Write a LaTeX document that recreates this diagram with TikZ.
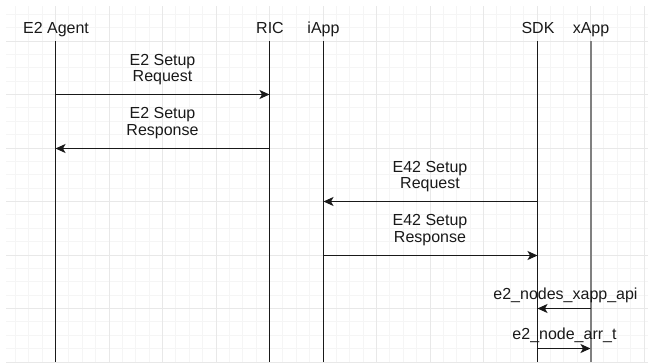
\documentclass[tikz,border=0pt]{standalone}
\usepackage{fontspec}
\setmainfont{Liberation Sans}
\usetikzlibrary{arrows.meta}
\begin{document}
\begin{tikzpicture}[x=1pt,y=-1pt,
  lbl/.style={font=\fontsize{16}{16.8}\selectfont, inner sep=0pt, outer sep=0pt, align=center, text=black!90},
  life/.style={line width=1.2pt, draw=black!90},
  lifegray/.style={line width=2pt, draw=black!50},
  msg/.style={line width=1.2pt, draw=black!90, -{Stealth[length=10pt,width=9pt,inset=2.5pt]}},
  minorgrid/.style={draw=black!4, line width=1pt},
  majorgrid/.style={draw=black!9, line width=1pt}]
\useasboundingbox (0,0) rectangle (648,362);
% grid
\foreach \k in {-3,...,44} {\draw[minorgrid] ({55.5+13.375*\k},6) -- ({55.5+13.375*\k},362);}
\foreach \k in {-2,...,24} {\draw[minorgrid] (6,{41+13.375*\k}) -- (648,{41+13.375*\k});}
\foreach \k in {0,...,11} {\draw[majorgrid] ({55.5+53.5*\k},6) -- ({55.5+53.5*\k},362);}
\foreach \k in {0,...,6} {\draw[majorgrid] (6,{41+53.5*\k}) -- (648,{41+53.5*\k});}
% headers
\node[lbl, anchor=base] (hE2) at (56,33) {E2 Agent};
\node[lbl, anchor=base] (hRIC) at (270,33) {RIC};
\node[lbl, anchor=base] (hiApp) at (323.5,33) {iApp};
\node[lbl, anchor=base] (hSDK) at (538,33) {SDK};
\node[lbl, anchor=base] (hxApp) at (591,33) {xApp};
% lifelines
\coordinate (E2t) at (55.5,41);   \coordinate (E2b) at (55.5,362);
\coordinate (RICt) at (269.5,41); \coordinate (RICb) at (269.5,362);
\coordinate (iAppt) at (323.5,41);  \coordinate (iAppb) at (323.5,362);
\coordinate (SDKt) at (537.5,41);   \coordinate (SDKb) at (537.5,362);
\coordinate (xAppt) at (590.5,41); \coordinate (xAppb) at (590.5,362);
\draw[life] (E2t) -- (E2b);
\draw[life] (RICt) -- (RICb);
\draw[life] (iAppt) -- (iAppb);
\draw[life] (SDKt) -- (SDKb);
\draw[lifegray] (xAppt) -- (xAppb);
% message points
\coordinate (E2m1) at (55.5,94.5);  \coordinate (RICm1) at (269.5,94.5);
\coordinate (E2m2) at (55.5,148.5);   \coordinate (RICm2) at (269.5,148.5);
\coordinate (iAppm3) at (323.5,201.5); \coordinate (SDKm3) at (537.5,201.5);
\coordinate (iAppm4) at (323.5,255.5);   \coordinate (SDKm4) at (537.5,255.5);
\coordinate (SDKm5) at (537.5,308.5);  \coordinate (xAppm5) at (590.5,308.5);
\coordinate (SDKm6) at (537.5,348.5);  \coordinate (xAppm6) at (590.5,348.5);
% messages
\draw[msg] (E2m1) -- (RICm1);
\draw[msg] (RICm2) -- (E2m2);
\draw[msg] (SDKm3) -- (iAppm3);
\draw[msg] (iAppm4) -- (SDKm4);
\draw[msg] (xAppm5) -- (SDKm5);
\draw[msg] (SDKm6) -- (xAppm6);
% labels
\node[lbl, anchor=north] (l1) at (162.5,54) {E2 Setup\\Request};
\node[lbl, anchor=north] (l2) at (162.5,107.5) {E2 Setup\\Response};
\node[lbl, anchor=north] (l3) at (430,161) {E42 Setup\\Request};
\node[lbl, anchor=north] (l4) at (430,214.5) {E42 Setup\\Response};
\node[lbl, anchor=base] (l5) at (565.5,299.5) {e2\_nodes\_xapp\_api};
\node[lbl, anchor=base] (l6) at (564.5,339.5) {e2\_node\_arr\_t};
\end{tikzpicture}
\end{document}
